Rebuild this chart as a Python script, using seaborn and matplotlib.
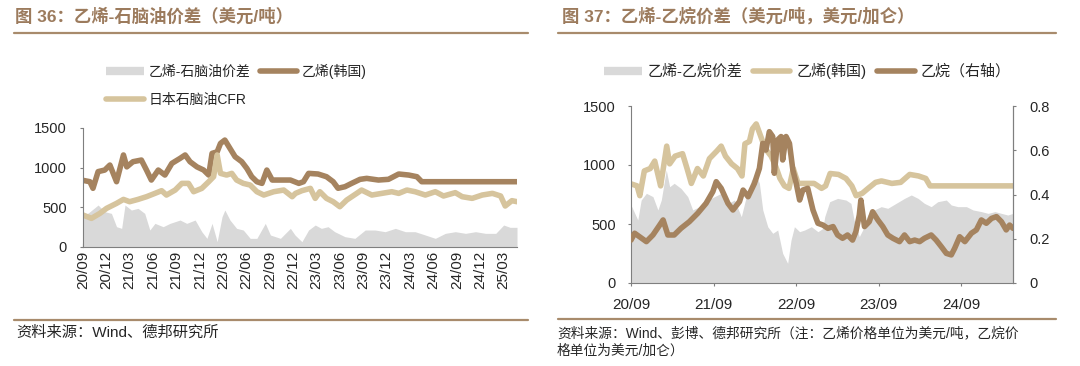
import matplotlib
matplotlib.use("Agg")
import matplotlib.pyplot as plt
from matplotlib.lines import Line2D
import pandas as pd
import seaborn as sns

# ---------------- data ----------------
# Korean ethylene, USD/t (used in both charts)
eth_kr_dates = ["2020-09-01", "2020-09-28", "2020-10-10", "2020-10-30", "2020-11-25", "2020-12-15",
                "2020-12-28", "2021-01-10", "2021-02-06", "2021-02-19", "2021-03-15", "2021-04-17",
                "2021-05-07", "2021-05-26", "2021-06-22", "2021-07-18", "2021-08-14", "2021-09-15",
                "2021-10-05", "2021-10-24", "2021-11-20", "2021-12-16", "2022-01-05", "2022-01-18",
                "2022-02-07", "2022-02-20", "2022-03-09", "2022-03-29", "2022-04-18", "2022-05-14",
                "2022-06-03", "2022-06-22", "2022-07-12", "2022-08-01", "2022-08-20", "2022-09-10",
                "2022-10-12", "2022-11-20", "2022-12-23", "2023-01-10", "2023-01-30", "2023-03-08",
                "2023-04-10", "2023-05-06", "2023-05-25", "2023-06-21", "2023-07-17", "2023-08-19",
                "2023-09-14", "2023-10-30", "2023-12-08", "2024-01-17", "2024-02-25", "2024-03-28",
                "2024-04-16", "2025-04-23"]
eth_kr = [840, 823, 740, 950, 970, 1033,
          928, 823, 1160, 1010, 1075, 1096,
          970, 844, 970, 907, 1054, 1117,
          1160, 1075, 1010, 970, 907, 1180,
          1200, 1306, 1348, 1243, 1138, 1075,
          990, 886, 823, 802, 970, 844,
          844, 844, 802, 823, 928, 920,
          886, 823, 740, 760, 802, 853,
          865, 844, 853, 920, 907, 886,
          823, 823]

# Japan naphtha CFR, USD/t
naph_dates = ["2020-09-01", "2020-10-04", "2020-11-06", "2020-12-02", "2021-01-10", "2021-02-06",
              "2021-03-02", "2021-04-04", "2021-05-07", "2021-06-09", "2021-07-05", "2021-07-24",
              "2021-08-27", "2021-09-22", "2021-10-18", "2021-11-07", "2021-12-09", "2022-01-05",
              "2022-01-24", "2022-02-07", "2022-02-20", "2022-03-16", "2022-04-05", "2022-04-24",
              "2022-05-20", "2022-06-16", "2022-07-12", "2022-08-08", "2022-09-16", "2022-10-25",
              "2022-11-27", "2022-12-10", "2023-01-04", "2023-02-06", "2023-02-25", "2023-03-15",
              "2023-04-10", "2023-05-06", "2023-06-01", "2023-06-28", "2023-08-06", "2023-08-25",
              "2023-10-04", "2023-11-12", "2023-12-21", "2024-01-17", "2024-02-18", "2024-03-21",
              "2024-04-30", "2024-06-08", "2024-07-10", "2024-08-25", "2024-09-21", "2024-10-30",
              "2024-12-08", "2025-01-17", "2025-02-18", "2025-03-08", "2025-04-03", "2025-04-23"]
naph_cfr = [403, 361, 424, 487, 550, 600,
            571, 600, 634, 676, 710, 655,
            718, 802, 802, 697, 739, 823,
            886, 1160, 928, 907, 928, 844,
            802, 781, 697, 655, 697, 718,
            634, 676, 710, 739, 613, 697,
            613, 571, 508, 592, 676, 718,
            655, 676, 697, 676, 718, 697,
            655, 697, 643, 685, 634, 613,
            655, 676, 643, 517, 584, 571]

# ethylene - naphtha spread, USD/t
sp1_dates = ["2020-09-01", "2020-09-28", "2020-10-30", "2020-11-25", "2020-12-21", "2021-01-10",
             "2021-01-30", "2021-02-12", "2021-03-09", "2021-04-04", "2021-04-30", "2021-05-20",
             "2021-06-09", "2021-07-11", "2021-08-07", "2021-09-15", "2021-10-11", "2021-11-13",
             "2021-12-09", "2021-12-29", "2022-01-18", "2022-02-07", "2022-02-26", "2022-03-09",
             "2022-03-29", "2022-04-24", "2022-05-20", "2022-06-16", "2022-07-12", "2022-08-14",
             "2022-09-03", "2022-10-12", "2022-11-20", "2022-12-08", "2023-01-04", "2023-01-30",
             "2023-02-25", "2023-03-21", "2023-04-16", "2023-05-12", "2023-06-21", "2023-07-30",
             "2023-09-08", "2023-10-17", "2023-11-25", "2024-01-04", "2024-02-12", "2024-03-21",
             "2024-04-30", "2024-06-08", "2024-07-17", "2024-08-25", "2024-10-04", "2024-11-12",
             "2024-12-21", "2025-01-30", "2025-03-02", "2025-03-27", "2025-04-23"]
spread1 = [382, 445, 529, 445, 424, 256,
           235, 529, 466, 487, 424, 214,
           298, 256, 298, 340, 298, 340,
           193, 109, 298, 67, 382, 466,
           340, 235, 214, 109, 109, 298,
           151, 109, 235, 151, 67, 214,
           277, 235, 256, 193, 130, 109,
           214, 214, 193, 235, 193, 193,
           151, 109, 172, 193, 172, 193,
           172, 172, 277, 248, 248]

# ethane, USD/gal (right axis)
ethane_dates = ["2020-09-01", "2020-09-17", "2020-10-09", "2020-11-08", "2020-12-07", "2021-01-06",
                "2021-01-21", "2021-02-11", "2021-03-11", "2021-04-10", "2021-05-17", "2021-06-23",
                "2021-07-30", "2021-08-29", "2021-09-13", "2021-10-05", "2021-11-04", "2021-11-26",
                "2021-12-25", "2022-01-10", "2022-02-01", "2022-03-01", "2022-03-23", "2022-04-07",
                "2022-04-21", "2022-05-06", "2022-05-21", "2022-05-28", "2022-06-12", "2022-06-27",
                "2022-07-04", "2022-07-19", "2022-08-03", "2022-08-18", "2022-09-02", "2022-09-17",
                "2022-10-01", "2022-10-23", "2022-11-15", "2022-12-07", "2022-12-29", "2023-01-20",
                "2023-02-12", "2023-03-04", "2023-03-26", "2023-04-17", "2023-05-09", "2023-05-24",
                "2023-06-08", "2023-06-15", "2023-07-01", "2023-07-22", "2023-08-06", "2023-08-29",
                "2023-09-20", "2023-10-12", "2023-11-04", "2023-12-03", "2023-12-25", "2024-01-17",
                "2024-02-08", "2024-03-01", "2024-03-22", "2024-04-21", "2024-05-13", "2024-06-05",
                "2024-06-27", "2024-07-19", "2024-08-03", "2024-08-25", "2024-09-17", "2024-10-16",
                "2024-11-07", "2024-11-29", "2024-12-21", "2025-01-13", "2025-02-04", "2025-02-26",
                "2025-03-19", "2025-04-03", "2025-04-18"]
ethane = [0.194, 0.225, 0.209, 0.187, 0.217, 0.262,
          0.285, 0.217, 0.217, 0.247, 0.277, 0.315,
          0.360, 0.413, 0.458, 0.428, 0.360, 0.330,
          0.368, 0.420, 0.390, 0.450, 0.518, 0.631,
          0.601, 0.684, 0.662, 0.496, 0.647, 0.662,
          0.556, 0.662, 0.631, 0.511, 0.450, 0.375,
          0.420, 0.428, 0.330, 0.270, 0.262, 0.247,
          0.255, 0.217, 0.202, 0.217, 0.194, 0.232,
          0.307, 0.375, 0.255, 0.277, 0.322, 0.285,
          0.255, 0.217, 0.202, 0.187, 0.217, 0.187,
          0.194, 0.187, 0.202, 0.217, 0.194, 0.164,
          0.134, 0.127, 0.157, 0.209, 0.187, 0.225,
          0.240, 0.285, 0.270, 0.292, 0.300, 0.277,
          0.240, 0.262, 0.247]

# ethylene - ethane spread, USD/t
sp2_dates = ["2020-09-01", "2020-10-01", "2020-10-16", "2020-11-08", "2020-12-07", "2020-12-29",
             "2021-01-13", "2021-02-04", "2021-02-19", "2021-03-11", "2021-04-10", "2021-05-10",
             "2021-06-01", "2021-07-01", "2021-08-07", "2021-09-06", "2021-10-05", "2021-11-04",
             "2021-12-03", "2022-01-02", "2022-01-24", "2022-02-16", "2022-03-08", "2022-03-23",
             "2022-04-07", "2022-04-29", "2022-05-21", "2022-06-12", "2022-07-04", "2022-07-26",
             "2022-08-10", "2022-08-25", "2022-09-17", "2022-10-09", "2022-11-08", "2022-12-07",
             "2022-12-29", "2023-01-06", "2023-01-28", "2023-03-04", "2023-04-10", "2023-05-02",
             "2023-05-16", "2023-06-08", "2023-06-23", "2023-07-15", "2023-08-14", "2023-09-13",
             "2023-10-12", "2023-11-18", "2023-12-25", "2024-01-24", "2024-02-23", "2024-03-22",
             "2024-04-21", "2024-05-20", "2024-06-27", "2024-07-19", "2024-08-17", "2024-09-24",
             "2024-10-23", "2024-11-29", "2024-12-29", "2025-01-28", "2025-02-26", "2025-03-26",
             "2025-04-18"]
spread2 = [661, 534, 703, 760, 732, 619,
           703, 958, 816, 845, 802, 732,
           619, 647, 703, 732, 760, 675,
           703, 562, 732, 873, 915, 845,
           619, 477, 421, 449, 251, 167,
           364, 477, 435, 449, 477, 435,
           463, 562, 689, 717, 703, 675,
           534, 393, 449, 576, 619, 647,
           633, 675, 717, 746, 717, 675,
           647, 689, 703, 661, 647, 647,
           619, 605, 590, 605, 590, 576,
           590]

left_ticks = ["20/09", "20/12", "21/03", "21/06", "21/09", "21/12", "22/03", "22/06", "22/09",
              "22/12", "23/03", "23/06", "23/09", "23/12", "24/03", "24/06", "24/09", "24/12", "25/03"]
right_ticks = ["20/09", "21/09", "22/09", "23/09", "24/09"]

# ---------------- style ----------------
sns.set_theme(style="white")
plt.rcParams["font.family"] = ["Liberation Sans", "Noto Sans CJK SC"]

BROWN = "#A5835F"
TAN = "#D6C49D"
GRAY = "#D9D9D9"
TITLE = "#9C7B5D"
RULE = "#A88B6C"
AXC = "#7F7F7F"
LW = 4

W, H = 1080, 366
fig = plt.figure(figsize=(W / 100, H / 100), dpi=100)


def fx(px):
    return px / W


def fy(px):
    return 1 - px / H


def to_df(dates, vals):
    return pd.DataFrame({"date": pd.to_datetime(dates), "value": vals})


def style_axis(ax):
    for s in ["top", "right"]:
        ax.spines[s].set_visible(False)
    for s in ["left", "bottom"]:
        ax.spines[s].set_color(AXC)
        ax.spines[s].set_linewidth(0.8)
    ax.set_xlabel("")
    ax.set_ylabel("")


kr = to_df(eth_kr_dates, eth_kr)

# ---------------- left chart ----------------
ax1 = fig.add_axes([fx(83), fy(247), fx(434), 119 / H])
s1 = to_df(sp1_dates, spread1)
ax1.fill_between(s1["date"], 0, s1["value"], color=GRAY, lw=0)
sns.lineplot(x="date", y="value", data=kr, ax=ax1, color=BROWN, lw=LW, legend=False)
sns.lineplot(x="date", y="value", data=to_df(naph_dates, naph_cfr), ax=ax1, color=TAN, lw=LW, legend=False)
style_axis(ax1)
ax1.set_xlim(pd.Timestamp("2020-09-01"), pd.Timestamp("2025-04-23"))
ax1.set_ylim(0, 1500)
ax1.set_yticks([0, 500, 1000, 1500])
ax1.set_yticklabels(["0", "500", "1000", "1500"])
lt = pd.date_range("2020-09-01", "2025-03-01", freq="3MS")
ax1.set_xticks(lt)
ax1.set_xticklabels(left_ticks, rotation=90)
ax1.tick_params(axis="y", direction="out", length=2.5, width=0.8, color=AXC, pad=9, labelsize=10.5, left=True)
ax1.tick_params(axis="x", direction="in", length=3, width=0.8, color=AXC, pad=3, labelsize=11, bottom=True)

# ---------------- right chart ----------------
ax2 = fig.add_axes([fx(631), fy(283), fx(382), 177 / H])
s2 = to_df(sp2_dates, spread2)
ax2.fill_between(s2["date"], 0, s2["value"], color=GRAY, lw=0)
sns.lineplot(x="date", y="value", data=kr, ax=ax2, color=TAN, lw=LW, legend=False)
style_axis(ax2)
ax2.spines["right"].set_visible(True)
ax2.spines["right"].set_color(AXC)
ax2.spines["right"].set_linewidth(0.8)
ax2.set_xlim(pd.Timestamp("2020-09-01"), pd.Timestamp("2025-04-18"))
ax2.set_ylim(0, 1500)
ax2.set_yticks([0, 500, 1000, 1500])
ax2.set_yticklabels(["0", "500", "1000", "1500"])
ax2.set_xticks(pd.to_datetime(["2020-09-01", "2021-09-01", "2022-09-01", "2023-09-01", "2024-09-01"]))
ax2.set_xticklabels(right_ticks)
ax2.tick_params(axis="y", direction="out", length=2.5, width=0.8, color=AXC, pad=8.5, labelsize=10.5, left=True)
ax2.tick_params(axis="x", direction="out", length=2.5, width=0.8, color=AXC, pad=8, labelsize=11, bottom=True)

ax3 = ax2.twinx()
sns.lineplot(x="date", y="value", data=to_df(ethane_dates, ethane), ax=ax3, color=BROWN, lw=LW, legend=False)
for s in ["top", "left", "bottom"]:
    ax3.spines[s].set_visible(False)
ax3.spines["right"].set_color(AXC)
ax3.spines["right"].set_linewidth(0.8)
ax3.set_ylabel("")
ax3.set_ylim(0, 0.8)
ax3.set_yticks([0, 0.2, 0.4, 0.6, 0.8])
ax3.set_yticklabels(["0", "0.2", "0.4", "0.6", "0.8"])
ax3.tick_params(axis="y", direction="out", length=2.5, width=0.8, color=AXC, pad=9.5, labelsize=10.5, right=True)

# ---------------- titles, rules, legends, sources ----------------
fig.text(fx(15), fy(16), "图 36：乙烯-石脑油价差（美元/吨）", color=TITLE, fontsize=12.5,
         fontweight="bold", va="center", ha="left")
fig.text(fx(562), fy(16), "图 37：乙烯-乙烷价差（美元/吨，美元/加仑）", color=TITLE, fontsize=12.5,
         fontweight="bold", va="center", ha="left")

for x0, x1, y in [(14, 528, 33), (14, 528, 320), (558, 1056, 33), (558, 1056, 319)]:
    fig.add_artist(Line2D([fx(x0), fx(x1)], [fy(y), fy(y)], color=RULE, lw=1.6))

h_gray = Line2D([], [], color=GRAY, lw=6, solid_capstyle="butt")
h_brown = Line2D([], [], color=BROWN, lw=LW, solid_capstyle="round")
h_tan = Line2D([], [], color=TAN, lw=LW, solid_capstyle="round")

fig.legend([h_gray, h_tan, h_brown], ["乙烯-石脑油价差", "日本石脑油CFR", "乙烯(韩国)"],
           loc="center left", bbox_to_anchor=(fx(106), fy(85)), ncol=2, labelspacing=1.0,
           frameon=False, fontsize=10, handlelength=2.7, handletextpad=0.35,
           columnspacing=0.7, borderpad=0, borderaxespad=0)
fig.legend([h_gray, h_tan, h_brown], ["乙烯-乙烷价差", "乙烯(韩国)", "乙烷（右轴）"],
           loc="center left", bbox_to_anchor=(fx(604), fy(71)), ncol=3,
           frameon=False, fontsize=10.8, handlelength=2.5, handletextpad=0.4,
           columnspacing=0.7, borderpad=0, borderaxespad=0)

fig.text(fx(16), fy(333), "资料来源：Wind、德邦研究所", fontsize=11, va="center", ha="left")
fig.text(fx(557), fy(342), "资料来源：Wind、彭博、德邦研究所（注：乙烯价格单位为美元/吨，乙烷价\n格单位为美元/加仑）",
         fontsize=9.9, va="center", ha="left", linespacing=1.35)

fig.savefig("out.png", dpi=100)
